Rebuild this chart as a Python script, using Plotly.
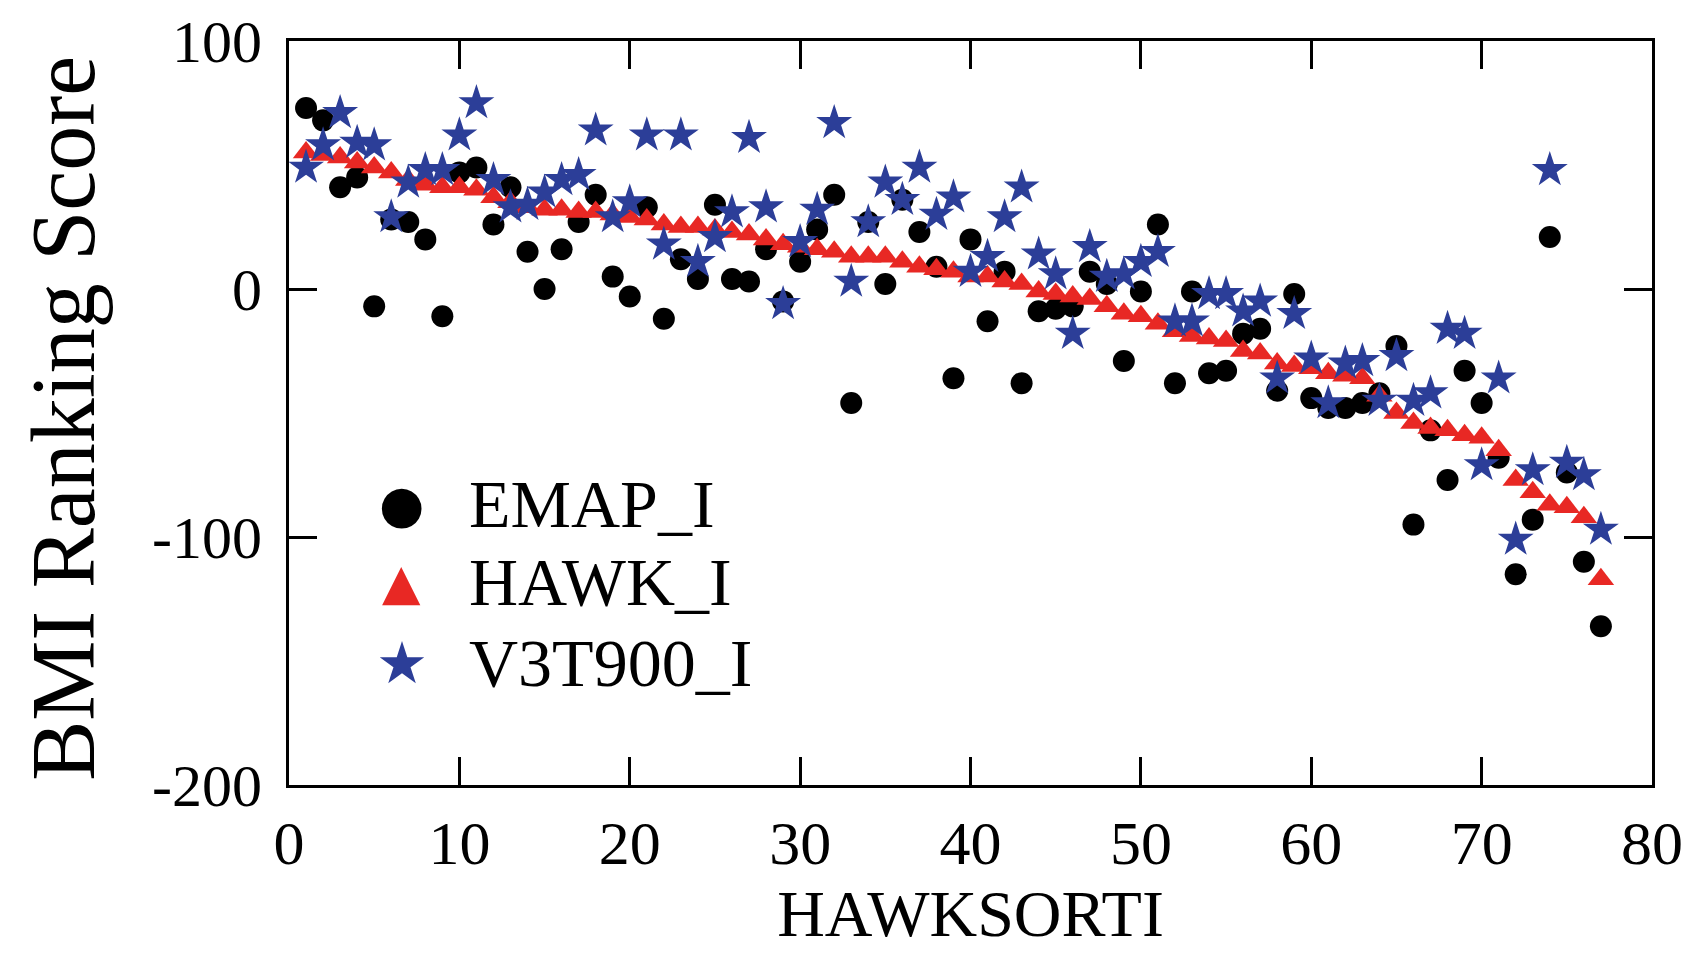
import plotly.graph_objects as go

x_rank = list(range(1, 78))

emap_i = [73, 68, 41, 45, -7, 28, 27, 20, -11, 47,
          49, 26, 41, 15, 0, 16, 27, 38, 5, -3,
          33, -12, 12, 4, 34, 4, 3, 16, -5, 11,
          24, 38, -46, 27, 2, 36, 23, 9, -36, 20,
          -13, 7, -38, -9, -8, -7, 7, 2, -29, -1,
          26, -38, -1, -34, -33, -18, -16, -41, -2, -44,
          -48, -48, -46, -42, -23, -95, -57, -77, -33, -46,
          -68, -115, -93, 21, -74, -110, -136]

hawk_i = [55, 54, 53, 51, 49, 47, 44, 42, 41, 41,
          40, 37, 35, 33, 32, 32, 31, 31, 30, 29,
          28, 26, 25, 25, 24, 23, 22, 20, 18, 17,
          16, 15, 13, 13, 13, 11, 9, 8, 7, 5,
          5, 3, 2, -1, -2, -3, -4, -7, -10, -11,
          -14, -17, -19, -20, -21, -25, -26, -30, -31, -32,
          -34, -35, -36, -43, -50, -54, -56, -57, -59, -60,
          -65, -77, -82, -87, -88, -92, -117]

v3t900_i = [49, 58, 71, 59, 58, 29, 43, 48, 48, 62,
            75, 44, 33, 34, 39, 44, 46, 64, 29, 35,
            62, 18, 62, 11, 21, 31, 61, 33, -6, 19,
            32, 67, 3, 27, 43, 36, 49, 30, 37, 7,
            13, 29, 41, 14, 6, -18, 17, 5, 6, 11,
            15, -13, -13, -2, -2, -9, -5, -36, -10, -28,
            -46, -30, -29, -45, -27, -45, -42, -16, -18, -71,
            -36, -101, -73, 48, -70, -75, -97]

series_names = ["EMAP_I", "HAWK_I", "V3T900_I"]
series_colors = ["black", "rgb(232,40,36)", "rgb(44,62,152)"]
legend_glyphs = ["●", "▲", "★"]

x_ticks = [0, 10, 20, 30, 40, 50, 60, 70, 80]
y_ticks = [-200, -100, 0, 100]

FONT = "Liberation Serif, Times New Roman, serif"

fig = go.Figure()
fig.add_trace(go.Scatter(x=x_rank, y=emap_i, mode="markers", name=series_names[0],
                         showlegend=False,
                         marker=dict(symbol="circle", size=22, color=series_colors[0])))
fig.add_trace(go.Scatter(x=x_rank, y=hawk_i, mode="markers", name=series_names[1],
                         showlegend=False,
                         marker=dict(symbol="triangle-up", size=23, color=series_colors[1])))
fig.add_trace(go.Scatter(x=x_rank, y=v3t900_i, mode="markers", name=series_names[2],
                         showlegend=False,
                         marker=dict(symbol="star", size=27, color=series_colors[2])))

axis_common = dict(showgrid=False, zeroline=False, showline=True, linecolor="black",
                   linewidth=3, mirror="allticks", ticks="inside", tickwidth=2.5,
                   tickcolor="black", ticklen=28, automargin=False,
                   ticklabeloverflow="allow")

fig.update_xaxes(range=[0, 80], tickvals=x_ticks, ticktext=[str(v) for v in x_ticks],
                 tickfont=dict(family=FONT, size=62, color="black"),
                 ticklabelstandoff=2,
                 title=dict(text="HAWKSORTI", font=dict(family=FONT, size=66, color="black"),
                            standoff=10),
                 **axis_common)
fig.update_yaxes(range=[-200, 100], tickvals=y_ticks, ticktext=[str(v) for v in y_ticks],
                 tickfont=dict(family=FONT, size=60, color="black"),
                 ticklabelstandoff=12,
                 **axis_common)

# y-axis title
fig.add_annotation(xref="paper", yref="paper", x=-0.1654, y=0.493, xanchor="center",
                   yanchor="middle", showarrow=False, textangle=-90,
                   text="BMI Ranking Score",
                   font=dict(family=FONT, size=90, color="black"))

# legend drawn as text block (glyph + label) inside the plot area
legend_rows_y = [0.378, 0.273, 0.164]
glyph_sizes = [52, 50, 58]
for name, color, glyph, gy, gs in zip(series_names, series_colors, legend_glyphs,
                                       legend_rows_y, glyph_sizes):
    fig.add_annotation(xref="paper", yref="paper", x=0.0826, y=gy, xanchor="center",
                       yanchor="middle", showarrow=False, text=glyph,
                       font=dict(family="DejaVu Sans", size=gs, color=color))
    fig.add_annotation(xref="paper", yref="paper", x=0.1308, y=gy, xanchor="left",
                       yanchor="middle", showarrow=False, text=name,
                       font=dict(family=FONT, size=68, color="black"))

fig.update_layout(
    width=1704, height=960,
    margin=dict(l=281, r=60, t=33, b=183),
    plot_bgcolor="white", paper_bgcolor="white",
    showlegend=False,
)

fig.write_html("out.html")
